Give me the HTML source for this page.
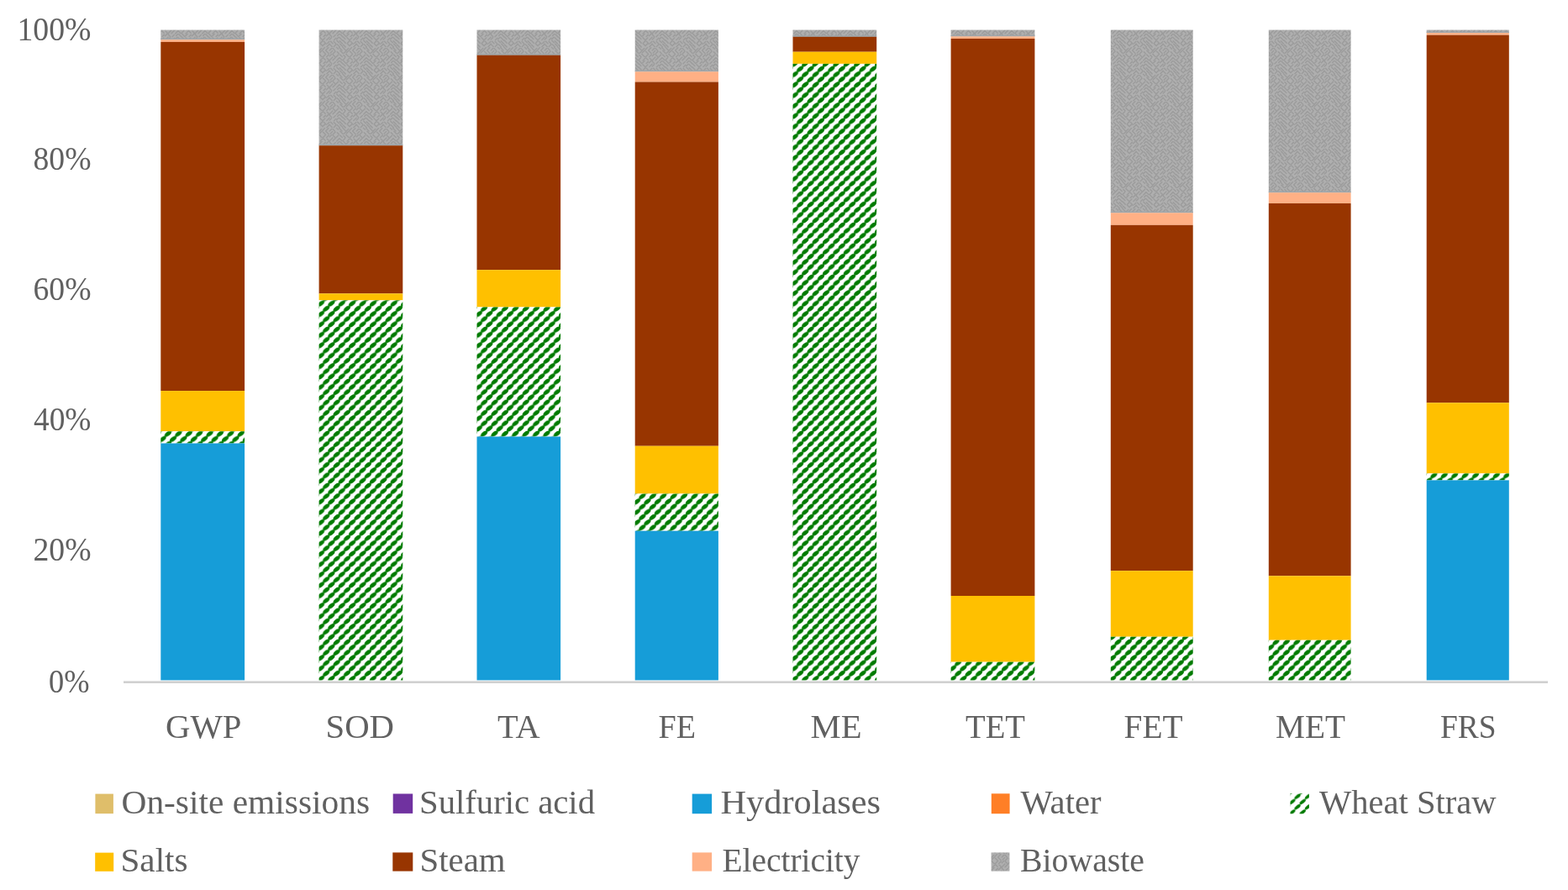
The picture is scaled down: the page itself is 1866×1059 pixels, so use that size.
<!DOCTYPE html>
<html><head><meta charset="utf-8"><title>Chart</title>
<style>
html,body{margin:0;padding:0;background:#fff;}
body{width:1866px;height:1059px;overflow:hidden;}
svg{display:block;}
text{font-family:'Liberation Serif', 'DejaVu Serif', serif;fill:#616161;}
</style></head><body>
<svg width="1866" height="1059" viewBox="0 0 1866 1059">
<defs>
<pattern id="wh0" patternUnits="userSpaceOnUse" width="12.4" height="12.4" x="190.6" y="798.2"><rect width="12.4" height="12.4" fill="#fff"/><g fill="#007a00"><ellipse cx="-9.3" cy="-3.1" rx="4.7" ry="2.45" transform="rotate(-38 -9.3 -3.1)"/><ellipse cx="-9.3" cy="9.3" rx="4.7" ry="2.45" transform="rotate(-38 -9.3 9.3)"/><ellipse cx="-9.3" cy="21.7" rx="4.7" ry="2.45" transform="rotate(-38 -9.3 21.7)"/><ellipse cx="3.1" cy="-3.1" rx="4.7" ry="2.45" transform="rotate(-38 3.1 -3.1)"/><ellipse cx="3.1" cy="9.3" rx="4.7" ry="2.45" transform="rotate(-38 3.1 9.3)"/><ellipse cx="3.1" cy="21.7" rx="4.7" ry="2.45" transform="rotate(-38 3.1 21.7)"/><ellipse cx="15.5" cy="-3.1" rx="4.7" ry="2.45" transform="rotate(-38 15.5 -3.1)"/><ellipse cx="15.5" cy="9.3" rx="4.7" ry="2.45" transform="rotate(-38 15.5 9.3)"/><ellipse cx="15.5" cy="21.7" rx="4.7" ry="2.45" transform="rotate(-38 15.5 21.7)"/><ellipse cx="-3.1" cy="-9.3" rx="4.7" ry="2.45" transform="rotate(-38 -3.1 -9.3)"/><ellipse cx="-3.1" cy="3.1" rx="4.7" ry="2.45" transform="rotate(-38 -3.1 3.1)"/><ellipse cx="-3.1" cy="15.5" rx="4.7" ry="2.45" transform="rotate(-38 -3.1 15.5)"/><ellipse cx="9.3" cy="-9.3" rx="4.7" ry="2.45" transform="rotate(-38 9.3 -9.3)"/><ellipse cx="9.3" cy="3.1" rx="4.7" ry="2.45" transform="rotate(-38 9.3 3.1)"/><ellipse cx="9.3" cy="15.5" rx="4.7" ry="2.45" transform="rotate(-38 9.3 15.5)"/><ellipse cx="21.7" cy="-9.3" rx="4.7" ry="2.45" transform="rotate(-38 21.7 -9.3)"/><ellipse cx="21.7" cy="3.1" rx="4.7" ry="2.45" transform="rotate(-38 21.7 3.1)"/><ellipse cx="21.7" cy="15.5" rx="4.7" ry="2.45" transform="rotate(-38 21.7 15.5)"/></g></pattern>
<pattern id="wh1" patternUnits="userSpaceOnUse" width="12.4" height="12.4" x="378.9" y="798.2"><rect width="12.4" height="12.4" fill="#fff"/><g fill="#007a00"><ellipse cx="-9.3" cy="-3.1" rx="4.7" ry="2.45" transform="rotate(-38 -9.3 -3.1)"/><ellipse cx="-9.3" cy="9.3" rx="4.7" ry="2.45" transform="rotate(-38 -9.3 9.3)"/><ellipse cx="-9.3" cy="21.7" rx="4.7" ry="2.45" transform="rotate(-38 -9.3 21.7)"/><ellipse cx="3.1" cy="-3.1" rx="4.7" ry="2.45" transform="rotate(-38 3.1 -3.1)"/><ellipse cx="3.1" cy="9.3" rx="4.7" ry="2.45" transform="rotate(-38 3.1 9.3)"/><ellipse cx="3.1" cy="21.7" rx="4.7" ry="2.45" transform="rotate(-38 3.1 21.7)"/><ellipse cx="15.5" cy="-3.1" rx="4.7" ry="2.45" transform="rotate(-38 15.5 -3.1)"/><ellipse cx="15.5" cy="9.3" rx="4.7" ry="2.45" transform="rotate(-38 15.5 9.3)"/><ellipse cx="15.5" cy="21.7" rx="4.7" ry="2.45" transform="rotate(-38 15.5 21.7)"/><ellipse cx="-3.1" cy="-9.3" rx="4.7" ry="2.45" transform="rotate(-38 -3.1 -9.3)"/><ellipse cx="-3.1" cy="3.1" rx="4.7" ry="2.45" transform="rotate(-38 -3.1 3.1)"/><ellipse cx="-3.1" cy="15.5" rx="4.7" ry="2.45" transform="rotate(-38 -3.1 15.5)"/><ellipse cx="9.3" cy="-9.3" rx="4.7" ry="2.45" transform="rotate(-38 9.3 -9.3)"/><ellipse cx="9.3" cy="3.1" rx="4.7" ry="2.45" transform="rotate(-38 9.3 3.1)"/><ellipse cx="9.3" cy="15.5" rx="4.7" ry="2.45" transform="rotate(-38 9.3 15.5)"/><ellipse cx="21.7" cy="-9.3" rx="4.7" ry="2.45" transform="rotate(-38 21.7 -9.3)"/><ellipse cx="21.7" cy="3.1" rx="4.7" ry="2.45" transform="rotate(-38 21.7 3.1)"/><ellipse cx="21.7" cy="15.5" rx="4.7" ry="2.45" transform="rotate(-38 21.7 15.5)"/></g></pattern>
<pattern id="wh2" patternUnits="userSpaceOnUse" width="12.4" height="12.4" x="566.8" y="798.2"><rect width="12.4" height="12.4" fill="#fff"/><g fill="#007a00"><ellipse cx="-9.3" cy="-3.1" rx="4.7" ry="2.45" transform="rotate(-38 -9.3 -3.1)"/><ellipse cx="-9.3" cy="9.3" rx="4.7" ry="2.45" transform="rotate(-38 -9.3 9.3)"/><ellipse cx="-9.3" cy="21.7" rx="4.7" ry="2.45" transform="rotate(-38 -9.3 21.7)"/><ellipse cx="3.1" cy="-3.1" rx="4.7" ry="2.45" transform="rotate(-38 3.1 -3.1)"/><ellipse cx="3.1" cy="9.3" rx="4.7" ry="2.45" transform="rotate(-38 3.1 9.3)"/><ellipse cx="3.1" cy="21.7" rx="4.7" ry="2.45" transform="rotate(-38 3.1 21.7)"/><ellipse cx="15.5" cy="-3.1" rx="4.7" ry="2.45" transform="rotate(-38 15.5 -3.1)"/><ellipse cx="15.5" cy="9.3" rx="4.7" ry="2.45" transform="rotate(-38 15.5 9.3)"/><ellipse cx="15.5" cy="21.7" rx="4.7" ry="2.45" transform="rotate(-38 15.5 21.7)"/><ellipse cx="-3.1" cy="-9.3" rx="4.7" ry="2.45" transform="rotate(-38 -3.1 -9.3)"/><ellipse cx="-3.1" cy="3.1" rx="4.7" ry="2.45" transform="rotate(-38 -3.1 3.1)"/><ellipse cx="-3.1" cy="15.5" rx="4.7" ry="2.45" transform="rotate(-38 -3.1 15.5)"/><ellipse cx="9.3" cy="-9.3" rx="4.7" ry="2.45" transform="rotate(-38 9.3 -9.3)"/><ellipse cx="9.3" cy="3.1" rx="4.7" ry="2.45" transform="rotate(-38 9.3 3.1)"/><ellipse cx="9.3" cy="15.5" rx="4.7" ry="2.45" transform="rotate(-38 9.3 15.5)"/><ellipse cx="21.7" cy="-9.3" rx="4.7" ry="2.45" transform="rotate(-38 21.7 -9.3)"/><ellipse cx="21.7" cy="3.1" rx="4.7" ry="2.45" transform="rotate(-38 21.7 3.1)"/><ellipse cx="21.7" cy="15.5" rx="4.7" ry="2.45" transform="rotate(-38 21.7 15.5)"/></g></pattern>
<pattern id="wh3" patternUnits="userSpaceOnUse" width="12.4" height="12.4" x="755" y="798.2"><rect width="12.4" height="12.4" fill="#fff"/><g fill="#007a00"><ellipse cx="-9.3" cy="-3.1" rx="4.7" ry="2.45" transform="rotate(-38 -9.3 -3.1)"/><ellipse cx="-9.3" cy="9.3" rx="4.7" ry="2.45" transform="rotate(-38 -9.3 9.3)"/><ellipse cx="-9.3" cy="21.7" rx="4.7" ry="2.45" transform="rotate(-38 -9.3 21.7)"/><ellipse cx="3.1" cy="-3.1" rx="4.7" ry="2.45" transform="rotate(-38 3.1 -3.1)"/><ellipse cx="3.1" cy="9.3" rx="4.7" ry="2.45" transform="rotate(-38 3.1 9.3)"/><ellipse cx="3.1" cy="21.7" rx="4.7" ry="2.45" transform="rotate(-38 3.1 21.7)"/><ellipse cx="15.5" cy="-3.1" rx="4.7" ry="2.45" transform="rotate(-38 15.5 -3.1)"/><ellipse cx="15.5" cy="9.3" rx="4.7" ry="2.45" transform="rotate(-38 15.5 9.3)"/><ellipse cx="15.5" cy="21.7" rx="4.7" ry="2.45" transform="rotate(-38 15.5 21.7)"/><ellipse cx="-3.1" cy="-9.3" rx="4.7" ry="2.45" transform="rotate(-38 -3.1 -9.3)"/><ellipse cx="-3.1" cy="3.1" rx="4.7" ry="2.45" transform="rotate(-38 -3.1 3.1)"/><ellipse cx="-3.1" cy="15.5" rx="4.7" ry="2.45" transform="rotate(-38 -3.1 15.5)"/><ellipse cx="9.3" cy="-9.3" rx="4.7" ry="2.45" transform="rotate(-38 9.3 -9.3)"/><ellipse cx="9.3" cy="3.1" rx="4.7" ry="2.45" transform="rotate(-38 9.3 3.1)"/><ellipse cx="9.3" cy="15.5" rx="4.7" ry="2.45" transform="rotate(-38 9.3 15.5)"/><ellipse cx="21.7" cy="-9.3" rx="4.7" ry="2.45" transform="rotate(-38 21.7 -9.3)"/><ellipse cx="21.7" cy="3.1" rx="4.7" ry="2.45" transform="rotate(-38 21.7 3.1)"/><ellipse cx="21.7" cy="15.5" rx="4.7" ry="2.45" transform="rotate(-38 21.7 15.5)"/></g></pattern>
<pattern id="wh4" patternUnits="userSpaceOnUse" width="12.4" height="12.4" x="942.8" y="798.2"><rect width="12.4" height="12.4" fill="#fff"/><g fill="#007a00"><ellipse cx="-9.3" cy="-3.1" rx="4.7" ry="2.45" transform="rotate(-38 -9.3 -3.1)"/><ellipse cx="-9.3" cy="9.3" rx="4.7" ry="2.45" transform="rotate(-38 -9.3 9.3)"/><ellipse cx="-9.3" cy="21.7" rx="4.7" ry="2.45" transform="rotate(-38 -9.3 21.7)"/><ellipse cx="3.1" cy="-3.1" rx="4.7" ry="2.45" transform="rotate(-38 3.1 -3.1)"/><ellipse cx="3.1" cy="9.3" rx="4.7" ry="2.45" transform="rotate(-38 3.1 9.3)"/><ellipse cx="3.1" cy="21.7" rx="4.7" ry="2.45" transform="rotate(-38 3.1 21.7)"/><ellipse cx="15.5" cy="-3.1" rx="4.7" ry="2.45" transform="rotate(-38 15.5 -3.1)"/><ellipse cx="15.5" cy="9.3" rx="4.7" ry="2.45" transform="rotate(-38 15.5 9.3)"/><ellipse cx="15.5" cy="21.7" rx="4.7" ry="2.45" transform="rotate(-38 15.5 21.7)"/><ellipse cx="-3.1" cy="-9.3" rx="4.7" ry="2.45" transform="rotate(-38 -3.1 -9.3)"/><ellipse cx="-3.1" cy="3.1" rx="4.7" ry="2.45" transform="rotate(-38 -3.1 3.1)"/><ellipse cx="-3.1" cy="15.5" rx="4.7" ry="2.45" transform="rotate(-38 -3.1 15.5)"/><ellipse cx="9.3" cy="-9.3" rx="4.7" ry="2.45" transform="rotate(-38 9.3 -9.3)"/><ellipse cx="9.3" cy="3.1" rx="4.7" ry="2.45" transform="rotate(-38 9.3 3.1)"/><ellipse cx="9.3" cy="15.5" rx="4.7" ry="2.45" transform="rotate(-38 9.3 15.5)"/><ellipse cx="21.7" cy="-9.3" rx="4.7" ry="2.45" transform="rotate(-38 21.7 -9.3)"/><ellipse cx="21.7" cy="3.1" rx="4.7" ry="2.45" transform="rotate(-38 21.7 3.1)"/><ellipse cx="21.7" cy="15.5" rx="4.7" ry="2.45" transform="rotate(-38 21.7 15.5)"/></g></pattern>
<pattern id="wh5" patternUnits="userSpaceOnUse" width="12.4" height="12.4" x="1130.9" y="798.2"><rect width="12.4" height="12.4" fill="#fff"/><g fill="#007a00"><ellipse cx="-9.3" cy="-3.1" rx="4.7" ry="2.45" transform="rotate(-38 -9.3 -3.1)"/><ellipse cx="-9.3" cy="9.3" rx="4.7" ry="2.45" transform="rotate(-38 -9.3 9.3)"/><ellipse cx="-9.3" cy="21.7" rx="4.7" ry="2.45" transform="rotate(-38 -9.3 21.7)"/><ellipse cx="3.1" cy="-3.1" rx="4.7" ry="2.45" transform="rotate(-38 3.1 -3.1)"/><ellipse cx="3.1" cy="9.3" rx="4.7" ry="2.45" transform="rotate(-38 3.1 9.3)"/><ellipse cx="3.1" cy="21.7" rx="4.7" ry="2.45" transform="rotate(-38 3.1 21.7)"/><ellipse cx="15.5" cy="-3.1" rx="4.7" ry="2.45" transform="rotate(-38 15.5 -3.1)"/><ellipse cx="15.5" cy="9.3" rx="4.7" ry="2.45" transform="rotate(-38 15.5 9.3)"/><ellipse cx="15.5" cy="21.7" rx="4.7" ry="2.45" transform="rotate(-38 15.5 21.7)"/><ellipse cx="-3.1" cy="-9.3" rx="4.7" ry="2.45" transform="rotate(-38 -3.1 -9.3)"/><ellipse cx="-3.1" cy="3.1" rx="4.7" ry="2.45" transform="rotate(-38 -3.1 3.1)"/><ellipse cx="-3.1" cy="15.5" rx="4.7" ry="2.45" transform="rotate(-38 -3.1 15.5)"/><ellipse cx="9.3" cy="-9.3" rx="4.7" ry="2.45" transform="rotate(-38 9.3 -9.3)"/><ellipse cx="9.3" cy="3.1" rx="4.7" ry="2.45" transform="rotate(-38 9.3 3.1)"/><ellipse cx="9.3" cy="15.5" rx="4.7" ry="2.45" transform="rotate(-38 9.3 15.5)"/><ellipse cx="21.7" cy="-9.3" rx="4.7" ry="2.45" transform="rotate(-38 21.7 -9.3)"/><ellipse cx="21.7" cy="3.1" rx="4.7" ry="2.45" transform="rotate(-38 21.7 3.1)"/><ellipse cx="21.7" cy="15.5" rx="4.7" ry="2.45" transform="rotate(-38 21.7 15.5)"/></g></pattern>
<pattern id="wh6" patternUnits="userSpaceOnUse" width="12.4" height="12.4" x="1321.1" y="798.2"><rect width="12.4" height="12.4" fill="#fff"/><g fill="#007a00"><ellipse cx="-9.3" cy="-3.1" rx="4.7" ry="2.45" transform="rotate(-38 -9.3 -3.1)"/><ellipse cx="-9.3" cy="9.3" rx="4.7" ry="2.45" transform="rotate(-38 -9.3 9.3)"/><ellipse cx="-9.3" cy="21.7" rx="4.7" ry="2.45" transform="rotate(-38 -9.3 21.7)"/><ellipse cx="3.1" cy="-3.1" rx="4.7" ry="2.45" transform="rotate(-38 3.1 -3.1)"/><ellipse cx="3.1" cy="9.3" rx="4.7" ry="2.45" transform="rotate(-38 3.1 9.3)"/><ellipse cx="3.1" cy="21.7" rx="4.7" ry="2.45" transform="rotate(-38 3.1 21.7)"/><ellipse cx="15.5" cy="-3.1" rx="4.7" ry="2.45" transform="rotate(-38 15.5 -3.1)"/><ellipse cx="15.5" cy="9.3" rx="4.7" ry="2.45" transform="rotate(-38 15.5 9.3)"/><ellipse cx="15.5" cy="21.7" rx="4.7" ry="2.45" transform="rotate(-38 15.5 21.7)"/><ellipse cx="-3.1" cy="-9.3" rx="4.7" ry="2.45" transform="rotate(-38 -3.1 -9.3)"/><ellipse cx="-3.1" cy="3.1" rx="4.7" ry="2.45" transform="rotate(-38 -3.1 3.1)"/><ellipse cx="-3.1" cy="15.5" rx="4.7" ry="2.45" transform="rotate(-38 -3.1 15.5)"/><ellipse cx="9.3" cy="-9.3" rx="4.7" ry="2.45" transform="rotate(-38 9.3 -9.3)"/><ellipse cx="9.3" cy="3.1" rx="4.7" ry="2.45" transform="rotate(-38 9.3 3.1)"/><ellipse cx="9.3" cy="15.5" rx="4.7" ry="2.45" transform="rotate(-38 9.3 15.5)"/><ellipse cx="21.7" cy="-9.3" rx="4.7" ry="2.45" transform="rotate(-38 21.7 -9.3)"/><ellipse cx="21.7" cy="3.1" rx="4.7" ry="2.45" transform="rotate(-38 21.7 3.1)"/><ellipse cx="21.7" cy="15.5" rx="4.7" ry="2.45" transform="rotate(-38 21.7 15.5)"/></g></pattern>
<pattern id="wh7" patternUnits="userSpaceOnUse" width="12.4" height="12.4" x="1509.1" y="798.2"><rect width="12.4" height="12.4" fill="#fff"/><g fill="#007a00"><ellipse cx="-9.3" cy="-3.1" rx="4.7" ry="2.45" transform="rotate(-38 -9.3 -3.1)"/><ellipse cx="-9.3" cy="9.3" rx="4.7" ry="2.45" transform="rotate(-38 -9.3 9.3)"/><ellipse cx="-9.3" cy="21.7" rx="4.7" ry="2.45" transform="rotate(-38 -9.3 21.7)"/><ellipse cx="3.1" cy="-3.1" rx="4.7" ry="2.45" transform="rotate(-38 3.1 -3.1)"/><ellipse cx="3.1" cy="9.3" rx="4.7" ry="2.45" transform="rotate(-38 3.1 9.3)"/><ellipse cx="3.1" cy="21.7" rx="4.7" ry="2.45" transform="rotate(-38 3.1 21.7)"/><ellipse cx="15.5" cy="-3.1" rx="4.7" ry="2.45" transform="rotate(-38 15.5 -3.1)"/><ellipse cx="15.5" cy="9.3" rx="4.7" ry="2.45" transform="rotate(-38 15.5 9.3)"/><ellipse cx="15.5" cy="21.7" rx="4.7" ry="2.45" transform="rotate(-38 15.5 21.7)"/><ellipse cx="-3.1" cy="-9.3" rx="4.7" ry="2.45" transform="rotate(-38 -3.1 -9.3)"/><ellipse cx="-3.1" cy="3.1" rx="4.7" ry="2.45" transform="rotate(-38 -3.1 3.1)"/><ellipse cx="-3.1" cy="15.5" rx="4.7" ry="2.45" transform="rotate(-38 -3.1 15.5)"/><ellipse cx="9.3" cy="-9.3" rx="4.7" ry="2.45" transform="rotate(-38 9.3 -9.3)"/><ellipse cx="9.3" cy="3.1" rx="4.7" ry="2.45" transform="rotate(-38 9.3 3.1)"/><ellipse cx="9.3" cy="15.5" rx="4.7" ry="2.45" transform="rotate(-38 9.3 15.5)"/><ellipse cx="21.7" cy="-9.3" rx="4.7" ry="2.45" transform="rotate(-38 21.7 -9.3)"/><ellipse cx="21.7" cy="3.1" rx="4.7" ry="2.45" transform="rotate(-38 21.7 3.1)"/><ellipse cx="21.7" cy="15.5" rx="4.7" ry="2.45" transform="rotate(-38 21.7 15.5)"/></g></pattern>
<pattern id="wh8" patternUnits="userSpaceOnUse" width="12.4" height="12.4" x="1697" y="798.2"><rect width="12.4" height="12.4" fill="#fff"/><g fill="#007a00"><ellipse cx="-9.3" cy="-3.1" rx="4.7" ry="2.45" transform="rotate(-38 -9.3 -3.1)"/><ellipse cx="-9.3" cy="9.3" rx="4.7" ry="2.45" transform="rotate(-38 -9.3 9.3)"/><ellipse cx="-9.3" cy="21.7" rx="4.7" ry="2.45" transform="rotate(-38 -9.3 21.7)"/><ellipse cx="3.1" cy="-3.1" rx="4.7" ry="2.45" transform="rotate(-38 3.1 -3.1)"/><ellipse cx="3.1" cy="9.3" rx="4.7" ry="2.45" transform="rotate(-38 3.1 9.3)"/><ellipse cx="3.1" cy="21.7" rx="4.7" ry="2.45" transform="rotate(-38 3.1 21.7)"/><ellipse cx="15.5" cy="-3.1" rx="4.7" ry="2.45" transform="rotate(-38 15.5 -3.1)"/><ellipse cx="15.5" cy="9.3" rx="4.7" ry="2.45" transform="rotate(-38 15.5 9.3)"/><ellipse cx="15.5" cy="21.7" rx="4.7" ry="2.45" transform="rotate(-38 15.5 21.7)"/><ellipse cx="-3.1" cy="-9.3" rx="4.7" ry="2.45" transform="rotate(-38 -3.1 -9.3)"/><ellipse cx="-3.1" cy="3.1" rx="4.7" ry="2.45" transform="rotate(-38 -3.1 3.1)"/><ellipse cx="-3.1" cy="15.5" rx="4.7" ry="2.45" transform="rotate(-38 -3.1 15.5)"/><ellipse cx="9.3" cy="-9.3" rx="4.7" ry="2.45" transform="rotate(-38 9.3 -9.3)"/><ellipse cx="9.3" cy="3.1" rx="4.7" ry="2.45" transform="rotate(-38 9.3 3.1)"/><ellipse cx="9.3" cy="15.5" rx="4.7" ry="2.45" transform="rotate(-38 9.3 15.5)"/><ellipse cx="21.7" cy="-9.3" rx="4.7" ry="2.45" transform="rotate(-38 21.7 -9.3)"/><ellipse cx="21.7" cy="3.1" rx="4.7" ry="2.45" transform="rotate(-38 21.7 3.1)"/><ellipse cx="21.7" cy="15.5" rx="4.7" ry="2.45" transform="rotate(-38 21.7 15.5)"/></g></pattern>
<pattern id="wheatL" patternUnits="userSpaceOnUse" width="12.4" height="12.4" x="1534.8" y="957.1"><rect width="12.4" height="12.4" fill="#fff"/><g fill="#007a00"><ellipse cx="-9.3" cy="-3.1" rx="4.4" ry="1.95" transform="rotate(-38 -9.3 -3.1)"/><ellipse cx="-9.3" cy="9.3" rx="4.4" ry="1.95" transform="rotate(-38 -9.3 9.3)"/><ellipse cx="-9.3" cy="21.7" rx="4.4" ry="1.95" transform="rotate(-38 -9.3 21.7)"/><ellipse cx="3.1" cy="-3.1" rx="4.4" ry="1.95" transform="rotate(-38 3.1 -3.1)"/><ellipse cx="3.1" cy="9.3" rx="4.4" ry="1.95" transform="rotate(-38 3.1 9.3)"/><ellipse cx="3.1" cy="21.7" rx="4.4" ry="1.95" transform="rotate(-38 3.1 21.7)"/><ellipse cx="15.5" cy="-3.1" rx="4.4" ry="1.95" transform="rotate(-38 15.5 -3.1)"/><ellipse cx="15.5" cy="9.3" rx="4.4" ry="1.95" transform="rotate(-38 15.5 9.3)"/><ellipse cx="15.5" cy="21.7" rx="4.4" ry="1.95" transform="rotate(-38 15.5 21.7)"/><ellipse cx="-3.1" cy="-9.3" rx="4.4" ry="1.95" transform="rotate(-38 -3.1 -9.3)"/><ellipse cx="-3.1" cy="3.1" rx="4.4" ry="1.95" transform="rotate(-38 -3.1 3.1)"/><ellipse cx="-3.1" cy="15.5" rx="4.4" ry="1.95" transform="rotate(-38 -3.1 15.5)"/><ellipse cx="9.3" cy="-9.3" rx="4.4" ry="1.95" transform="rotate(-38 9.3 -9.3)"/><ellipse cx="9.3" cy="3.1" rx="4.4" ry="1.95" transform="rotate(-38 9.3 3.1)"/><ellipse cx="9.3" cy="15.5" rx="4.4" ry="1.95" transform="rotate(-38 9.3 15.5)"/><ellipse cx="21.7" cy="-9.3" rx="4.4" ry="1.95" transform="rotate(-38 21.7 -9.3)"/><ellipse cx="21.7" cy="3.1" rx="4.4" ry="1.95" transform="rotate(-38 21.7 3.1)"/><ellipse cx="21.7" cy="15.5" rx="4.4" ry="1.95" transform="rotate(-38 21.7 15.5)"/></g></pattern>
<pattern id="bio" patternUnits="userSpaceOnUse" width="32" height="32"><rect width="32" height="32" fill="#afafaf"/><path d="M0.28,3.74L3.57,0.45M0.28,35.74L3.57,32.45M32.28,3.74L35.57,0.45M32.28,35.74L35.57,32.45M0.88,5.01L3.14,7.27M32.88,5.01L35.14,7.27M1.14,11.53L3.27,9.4M33.14,11.53L35.27,9.4M-0.14,15.98L2.83,13.01M31.86,15.98L34.83,13.01M1.31,17.29L4.23,20.2M33.31,17.29L36.23,20.2M0.08,22.59L2.82,19.85M32.08,22.59L34.82,19.85M0.48,26.61L2.53,24.57M32.48,26.61L34.53,24.57M0.54,-2.82L3.27,-0.09M0.54,29.18L3.27,31.91M32.54,-2.82L35.27,-0.09M32.54,29.18L35.27,31.91M4.68,3.58L7.32,0.94M4.68,35.58L7.32,32.94M5.21,5.2L8.38,8.38M4.5,10.77L6.91,8.37M4.83,15.43L8.02,12.25M5.73,19.56L7.73,17.56M4.97,23.64L8.34,20.27M3.77,27.75L6.86,24.66M3.66,-3.94L7.01,-0.59M3.66,28.06L7.01,31.41M8.32,2.66L10.46,0.52M8.32,34.66L10.46,32.52M9.08,6.88L11.87,4.09M8.41,9.28L10.6,11.46M8.24,15.02L10.54,12.72M9.54,17.27L11.97,19.7M7.94,20.23L11.14,23.43M8.21,27.93L10.51,25.63M9.23,-1.07L11.64,-3.48M9.23,30.93L11.64,28.52M12.17,0.96L14.51,3.3M12.17,32.96L14.51,35.3M12.12,7.6L15.47,4.25M12.99,11.71L15.25,9.46M13.48,15.68L15.83,13.33M13.25,17.57L15.52,19.84M13.32,23.46L15.91,20.87M12.1,25.57L14.43,27.91M12.19,-0.06L15.03,-2.9M12.19,31.94L15.03,29.1M16.43,3.4L18.53,1.3M16.43,35.4L18.53,33.3M16.66,7.99L19.52,5.13M17.66,10.54L19.68,8.51M16.79,14.42L19.04,12.17M16.86,16.16L19.37,18.66M17.28,20.77L20.25,23.73M16.41,24.24L18.44,26.27M17.31,-2.27L19.34,-0.24M17.31,29.73L19.34,31.76M20.75,1.15L23.19,3.59M20.75,33.15L23.19,35.59M19.8,4.56L22.84,7.59M20.82,8.77L23.93,11.88M20.13,12.67L23.39,15.93M20.26,16.86L23.47,20.07M20.79,20.4L23.61,23.22M19.63,24.53L23.02,27.92M20.85,-3.69L23.88,-0.66M20.85,28.31L23.88,31.34M24.85,1.48L26.96,3.6M24.85,33.48L26.96,35.6M23.91,7.5L26.58,4.83M24.89,8.57L27.75,11.43M24.4,12.01L26.82,14.43M23.89,15.84L27.16,19.11M24.68,21.4L27.14,23.86M23.95,24.33L27.08,27.45M25.2,-0.78L28.02,-3.59M25.2,31.22L28.02,28.41M-4.17,0.41L-1,3.58M-4.17,32.41L-1,35.58M27.83,0.41L31,3.58M27.83,32.41L31,35.58M-2.86,7.91L-0.47,5.53M29.14,7.91L31.53,5.53M-3.23,10.79L-0.93,8.49M28.77,10.79L31.07,8.49M-3.02,12.77L-0.58,15.21M28.98,12.77L31.42,15.21M-2.28,18.98L-0.18,16.87M29.72,18.98L31.82,16.87M-2.9,19.77L0.09,22.76M29.1,19.77L32.09,22.76M-3.32,27.48L-1.29,25.45M28.68,27.48L30.71,25.45M-3.65,-1.18L-0.49,-4.34M-3.65,30.82L-0.49,27.66M28.35,-1.18L31.51,-4.34M28.35,30.82L31.51,27.66" stroke="#9c9c9c" stroke-width="1.5" stroke-linecap="round" fill="none"/></pattern>
<filter id="soft" x="0" y="0" width="100%" height="100%" filterUnits="userSpaceOnUse"><feGaussianBlur stdDeviation="0.6"/></filter>
</defs>
<rect width="1866" height="1059" fill="#fff"/>
<g filter="url(#soft)">
<rect width="1866" height="1059" fill="#fff"/>
<rect x="191.3" y="35.6" width="99.8" height="11.6" fill="url(#bio)"/><rect x="191.3" y="45.6" width="99.8" height="1.6" fill="#9fa6aa"/><rect x="191.3" y="47.2" width="99.8" height="2.7" fill="#ffb085"/><rect x="191.3" y="49.9" width="99.8" height="415.2" fill="#983600"/><rect x="191.3" y="465.1" width="99.8" height="48.2" fill="#ffc000"/><rect x="191.3" y="513.3" width="99.8" height="14.2" fill="url(#wh0)"/><rect x="191.3" y="527.5" width="99.8" height="281.9" fill="#199dd8"/>
<rect x="379.6" y="35.6" width="99.7" height="137.6" fill="url(#bio)"/><rect x="379.6" y="171.6" width="99.7" height="1.6" fill="#9fa6aa"/><rect x="379.6" y="173.2" width="99.7" height="176.1" fill="#983600"/><rect x="379.6" y="349.3" width="99.7" height="8" fill="#ffc000"/><rect x="379.6" y="357.3" width="99.7" height="452.1" fill="url(#wh1)"/>
<rect x="567.5" y="35.6" width="99.6" height="30.1" fill="url(#bio)"/><rect x="567.5" y="64.1" width="99.6" height="1.6" fill="#9fa6aa"/><rect x="567.5" y="65.7" width="99.6" height="255.5" fill="#983600"/><rect x="567.5" y="321.2" width="99.6" height="44.2" fill="#ffc000"/><rect x="567.5" y="365.4" width="99.6" height="154.1" fill="url(#wh2)"/><rect x="567.5" y="519.5" width="99.6" height="289.9" fill="#199dd8"/>
<rect x="755.7" y="35.6" width="99.2" height="49.7" fill="url(#bio)"/><rect x="755.7" y="83.7" width="99.2" height="1.6" fill="#9fa6aa"/><rect x="755.7" y="85.3" width="99.2" height="12.2" fill="#ffb085"/><rect x="755.7" y="97.5" width="99.2" height="433.2" fill="#983600"/><rect x="755.7" y="530.7" width="99.2" height="56.8" fill="#ffc000"/><rect x="755.7" y="587.5" width="99.2" height="44.2" fill="url(#wh3)"/><rect x="755.7" y="631.7" width="99.2" height="177.7" fill="#199dd8"/>
<rect x="943.5" y="35.6" width="99.7" height="8.2" fill="url(#bio)"/><rect x="943.5" y="42.2" width="99.7" height="1.6" fill="#9fa6aa"/><rect x="943.5" y="43.8" width="99.7" height="17.9" fill="#983600"/><rect x="943.5" y="61.7" width="99.7" height="14.2" fill="#ffc000"/><rect x="943.5" y="75.9" width="99.7" height="733.5" fill="url(#wh4)"/>
<rect x="1131.6" y="35.6" width="99.8" height="7.8" fill="url(#bio)"/><rect x="1131.6" y="41.8" width="99.8" height="1.6" fill="#9fa6aa"/><rect x="1131.6" y="43.4" width="99.8" height="2.6" fill="#ffb085"/><rect x="1131.6" y="46" width="99.8" height="663" fill="#983600"/><rect x="1131.6" y="709" width="99.8" height="78.7" fill="#ffc000"/><rect x="1131.6" y="787.7" width="99.8" height="21.7" fill="url(#wh5)"/>
<rect x="1321.8" y="35.6" width="97.9" height="217.7" fill="url(#bio)"/><rect x="1321.8" y="251.7" width="97.9" height="1.6" fill="#9fa6aa"/><rect x="1321.8" y="253.3" width="97.9" height="14.5" fill="#ffb085"/><rect x="1321.8" y="267.8" width="97.9" height="411.4" fill="#983600"/><rect x="1321.8" y="679.2" width="97.9" height="78.5" fill="#ffc000"/><rect x="1321.8" y="757.7" width="97.9" height="51.7" fill="url(#wh6)"/>
<rect x="1509.8" y="35.6" width="97.8" height="193.6" fill="url(#bio)"/><rect x="1509.8" y="227.6" width="97.8" height="1.6" fill="#9fa6aa"/><rect x="1509.8" y="229.2" width="97.8" height="12.8" fill="#ffb085"/><rect x="1509.8" y="242" width="97.8" height="443.3" fill="#983600"/><rect x="1509.8" y="685.3" width="97.8" height="76.4" fill="#ffc000"/><rect x="1509.8" y="761.7" width="97.8" height="47.7" fill="url(#wh7)"/>
<rect x="1697.7" y="35.6" width="98.1" height="3.5" fill="url(#bio)"/><rect x="1697.7" y="37.88" width="98.1" height="1.22" fill="#9fa6aa"/><rect x="1697.7" y="39.1" width="98.1" height="2.6" fill="#ffb085"/><rect x="1697.7" y="41.7" width="98.1" height="437.6" fill="#983600"/><rect x="1697.7" y="479.3" width="98.1" height="84.1" fill="#ffc000"/><rect x="1697.7" y="563.4" width="98.1" height="8" fill="url(#wh8)"/><rect x="1697.7" y="571.4" width="98.1" height="238" fill="#199dd8"/>
<rect x="147" y="810.4" width="1695" height="2.6" fill="#d0d0d0"/>
<rect x="113.4" y="944.6" width="21.5" height="23.5" fill="#dfbe6a"/>
<rect x="467.7" y="944.5" width="23.5" height="23.4" fill="#7030a0"/>
<rect x="823.7" y="944.6" width="23.4" height="23.6" fill="#199dd8"/>
<rect x="1179.8" y="944.3" width="21.8" height="23.9" fill="#ff7f27"/>
<rect x="1535.5" y="944.1" width="22.4" height="24.2" fill="url(#wheatL)"/>
<rect x="113.2" y="1014.6" width="22" height="22.2" fill="#ffc000"/>
<rect x="467.3" y="1014.4" width="24" height="22.2" fill="#983600"/>
<rect x="823.7" y="1014.4" width="23.4" height="22.2" fill="#ffb085"/>
<rect x="1179.6" y="1014.4" width="21.8" height="22.2" fill="url(#bio)"/>
<text x="20.5" y="47.8" font-size="39.5" textLength="88" lengthAdjust="spacingAndGlyphs">100%</text>
<text x="39.5" y="201.5" font-size="39.5" textLength="69" lengthAdjust="spacingAndGlyphs">80%</text>
<text x="39.5" y="357.3" font-size="39.5" textLength="69" lengthAdjust="spacingAndGlyphs">60%</text>
<text x="40" y="511.7" font-size="39.5" textLength="68.5" lengthAdjust="spacingAndGlyphs">40%</text>
<text x="39.5" y="667.3" font-size="39.5" textLength="69" lengthAdjust="spacingAndGlyphs">20%</text>
<text x="58" y="823.6" font-size="39.5" textLength="48.5" lengthAdjust="spacingAndGlyphs">0%</text>
<text x="197" y="877.8" font-size="39.5" textLength="90.5" lengthAdjust="spacingAndGlyphs">GWP</text>
<text x="387.5" y="877.8" font-size="39.5" textLength="81.5" lengthAdjust="spacingAndGlyphs">SOD</text>
<text x="592" y="877.8" font-size="39.5" textLength="50.5" lengthAdjust="spacingAndGlyphs">TA</text>
<text x="783.5" y="877.8" font-size="39.5" textLength="44.5" lengthAdjust="spacingAndGlyphs">FE</text>
<text x="964.5" y="877.8" font-size="39.5" textLength="61" lengthAdjust="spacingAndGlyphs">ME</text>
<text x="1149" y="877.8" font-size="39.5" textLength="71" lengthAdjust="spacingAndGlyphs">TET</text>
<text x="1337.5" y="877.8" font-size="39.5" textLength="70" lengthAdjust="spacingAndGlyphs">FET</text>
<text x="1518" y="877.8" font-size="39.5" textLength="83" lengthAdjust="spacingAndGlyphs">MET</text>
<text x="1714" y="877.8" font-size="39.5" textLength="66.5" lengthAdjust="spacingAndGlyphs">FRS</text>
<text x="144.5" y="968.4" font-size="39.5" textLength="295.5" lengthAdjust="spacingAndGlyphs">On-site emissions</text>
<text x="499" y="968.4" font-size="39.5" textLength="209" lengthAdjust="spacingAndGlyphs">Sulfuric acid</text>
<text x="857.5" y="968.4" font-size="39.5" textLength="190.5" lengthAdjust="spacingAndGlyphs">Hydrolases</text>
<text x="1214.5" y="968.4" font-size="39.5" textLength="96" lengthAdjust="spacingAndGlyphs">Water</text>
<text x="1570" y="968.4" font-size="39.5" textLength="210.5" lengthAdjust="spacingAndGlyphs">Wheat Straw</text>
<text x="143.5" y="1036.5" font-size="39.5" textLength="80" lengthAdjust="spacingAndGlyphs">Salts</text>
<text x="499.5" y="1036.5" font-size="39.5" textLength="102" lengthAdjust="spacingAndGlyphs">Steam</text>
<text x="859.5" y="1036.5" font-size="39.5" textLength="164" lengthAdjust="spacingAndGlyphs">Electricity</text>
<text x="1214" y="1036.5" font-size="39.5" textLength="148" lengthAdjust="spacingAndGlyphs">Biowaste</text>
</g>
</svg>
</body></html>
